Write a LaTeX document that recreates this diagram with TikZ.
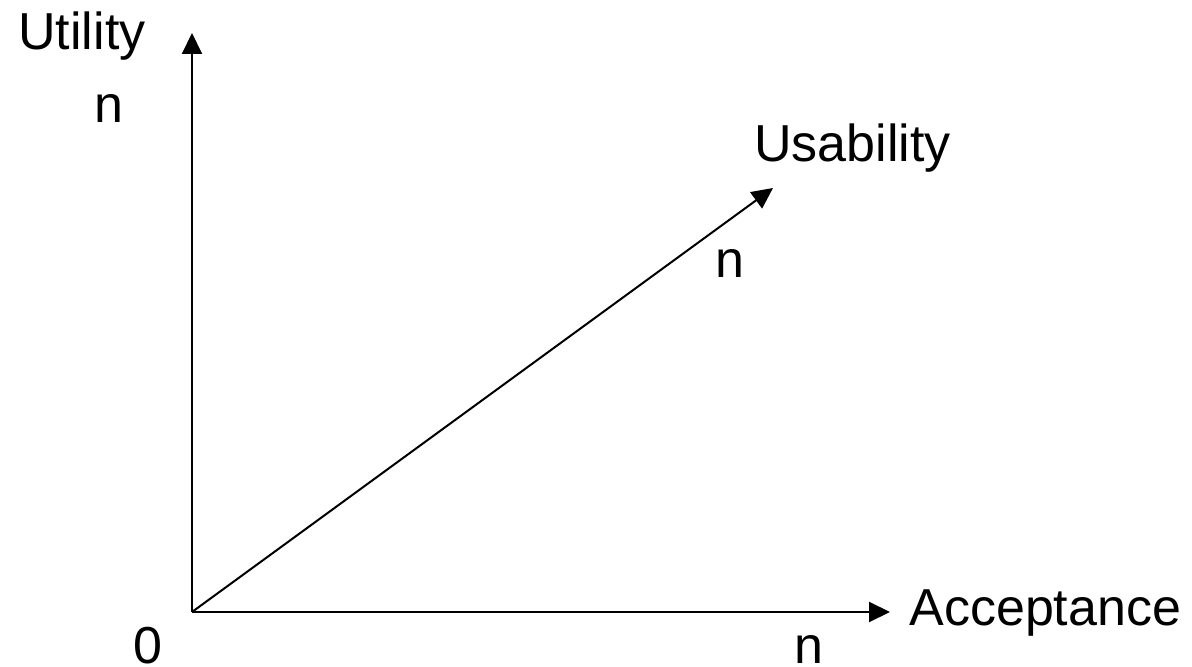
\documentclass[tikz,border=0pt]{standalone}
\usepackage{fontspec}
\setmainfont{Liberation Sans}
\usetikzlibrary{arrows.meta}

\begin{document}
\begin{tikzpicture}[x=0.5pt, y=-0.5pt,
    axisLine/.style={line width=1pt, -{Triangle[length=10.5pt,width=10pt]}},
    axisLabel/.style={anchor=base west, inner sep=0pt, font=\fontsize{26}{31}\selectfont}]
    % Fix the page size
    \useasboundingbox (0,0) rectangle (1192,667);

    % Define axis end points
    \coordinate (origin) at (192,612);
    \coordinate (utilityEnd) at (192,33);
    \coordinate (acceptanceEnd) at (890,612);
    \coordinate (usabilityEnd) at (773,188);

    % Draw axes
    \draw[axisLine] (origin) -- (utilityEnd);
    \draw[axisLine] (origin) -- (acceptanceEnd);
    \draw[axisLine] (origin) -- (usabilityEnd);

    % Label the axes
    \node[axisLabel] (utility) at (18,50) {Utility};
    \node[axisLabel] (usability) at (754,162) {Usability};
    \node[axisLabel] (acceptance) at (909,625) {Acceptance};

    % Label the ends of the scales
    \node[axisLabel] (zero) at (133,663) {0};
    \node[axisLabel] (utilityN) at (94,123) {n};
    \node[axisLabel] (usabilityN) at (715,278) {n};
    \node[axisLabel] (acceptanceN) at (794,663) {n};

\end{tikzpicture}
\end{document}
